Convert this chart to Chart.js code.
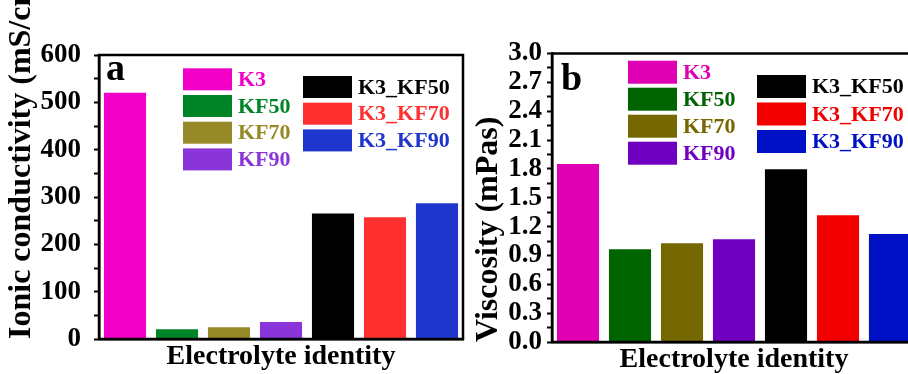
<!DOCTYPE html>
<html>
<head>
<meta charset="utf-8">
<script src="https://cdn.jsdelivr.net/npm/chart.js@4.4.1/dist/chart.umd.min.js"></script>
<style>
html, body { margin: 0; padding: 0; background: #fff; overflow: hidden; }
body { width: 908px; height: 374px; position: relative; }
.panel { position: absolute; top: 0; height: 374px; }
#panelA { left: 0; width: 470px; }
#panelB { left: 460px; width: 470px; }
</style>
</head>
<body>
<div class="panel" id="panelA"><canvas id="chartA"></canvas></div>
<div class="panel" id="panelB"><canvas id="chartB"></canvas></div>
<script>
const electrolytes = ['K3', 'KF50', 'KF70', 'KF90', 'K3_KF50', 'K3_KF70', 'K3_KF90'];

// panel a: ionic conductivity (mS/cm)
const conductivity = [520, 20.5, 25, 36, 265, 257, 287];
const conductivityTicks = [0, 100, 200, 300, 400, 500, 600];
const colorsA = ['#f200c8', '#008428', '#968a28', '#8a35da', '#000000', '#ff3030', '#2035cc'];

// panel b: viscosity (mPas)
const viscosity = [1.851, 0.964, 1.026, 1.068, 1.796, 1.317, 1.123];
const viscosityTicks = [0.0, 0.3, 0.6, 0.9, 1.2, 1.5, 1.8, 2.1, 2.4, 2.7, 3.0];
const colorsB = ['#e000b4', '#006400', '#766800', '#7000c0', '#000000', '#f20000', '#0010c4'];

const SERIF = '"Liberation Serif", "Times New Roman", serif';

const withMinor = (majors) => {
    const out = [];
    majors.forEach((v, i) => {
        out.push({ value: v });
        if (i < majors.length - 1) out.push({ value: (v + majors[i + 1]) / 2 });
    });
    return out;
};

const panelDecor = {
    id: 'panelDecor',
    afterDraw(chart, args, opts) {
        const { ctx, chartArea: a } = chart;
        ctx.save();
        ctx.lineWidth = 2.5;
        ctx.strokeStyle = '#000';
        ctx.strokeRect(a.left, a.top, a.right - a.left, a.bottom - a.top);

        ctx.fillStyle = '#000';
        ctx.font = 'bold 38px ' + SERIF;
        ctx.textBaseline = 'alphabetic';
        ctx.fillText(opts.letter, a.left + opts.letterX, a.top + opts.letterY);

        const ds = chart.data.datasets[0];
        ctx.font = 'bold 22px ' + SERIF;
        ctx.textBaseline = 'middle';
        let idx = 0;
        opts.columns.forEach((col) => {
            for (let r = 0; r < col.count; r++, idx++) {
                const x = a.left + col.x;
                const y = a.top + col.y + r * col.pitch;
                ctx.fillStyle = ds.backgroundColor[idx];
                ctx.fillRect(x, y, opts.boxW, opts.boxH);
                ctx.fillText(chart.data.labels[idx], x + opts.boxW + 6, y + opts.boxH / 2 + 1);
            }
        });
        ctx.restore();
    }
};

const makeChart = (canvas, cfg) => new Chart(canvas, {
    type: 'bar',
    data: {
        labels: electrolytes,
        datasets: [{
            data: cfg.values,
            backgroundColor: cfg.colors,
            categoryPercentage: 1.0,
            barPercentage: 0.81
        }]
    },
    options: {
        responsive: true,
        maintainAspectRatio: false,
        animation: false,
        layout: { padding: cfg.padding },
        plugins: {
            legend: { display: false },
            tooltip: { enabled: false },
            panelDecor: cfg.decor
        },
        scales: {
            x: {
                type: 'category',
                ticks: { display: false },
                grid: { display: true, drawOnChartArea: false, drawTicks: false },
                border: { display: true, color: '#000', width: 2.5 },
                title: {
                    display: true,
                    text: 'Electrolyte identity',
                    color: '#000',
                    font: { family: SERIF, size: 28, weight: 'bold' },
                    padding: cfg.xTitlePad
                },
                afterFit: (s) => { s.height = cfg.xHeight; }
            },
            y: {
                min: cfg.ticks[0],
                max: cfg.ticks[cfg.ticks.length - 1],
                afterBuildTicks: (s) => { s.ticks = withMinor(cfg.ticks); },
                afterFit: (s) => { s.width = cfg.yWidth; },
                ticks: {
                    autoSkip: false,
                    color: '#000',
                    padding: cfg.tickPad,
                    font: { family: SERIF, size: 27, weight: 'bold' },
                    callback: (v) => cfg.ticks.some((t) => Math.abs(t - v) < 1e-6) ? cfg.fmt(v) : ''
                },
                grid: { drawOnChartArea: false, drawTicks: true, tickLength: 5, tickColor: '#000', tickWidth: 2 },
                border: { display: true, color: '#000', width: 2.5 },
                title: {
                    display: true,
                    text: cfg.yTitle,
                    align: 'start',
                    color: '#000',
                    font: { family: SERIF, size: 32, weight: 'bold' },
                    padding: cfg.yTitlePad
                }
            }
        }
    },
    plugins: [panelDecor]
});

makeChart(document.getElementById('chartA'), {
    values: conductivity,
    colors: colorsA,
    ticks: conductivityTicks,
    fmt: (v) => String(Math.round(v)),
    yTitle: 'Ionic conductivity (mS/cm)',
    padding: { top: 55, right: 7, left: 0, bottom: 0 },
    xHeight: 35,
    yWidth: 99,
    tickPad: 13,
    xTitlePad: { top: 0, bottom: 0 },
    yTitlePad: { top: 3, bottom: 0 },
    decor: {
        letter: 'a', letterX: 7, letterY: 25,
        boxW: 49, boxH: 22,
        columns: [
            { x: 84, y: 13.3, pitch: 26.7, count: 4 },
            { x: 204, y: 21, pitch: 26.7, count: 3 }
        ]
    }
});

makeChart(document.getElementById('chartB'), {
    values: viscosity,
    colors: colorsB,
    ticks: viscosityTicks,
    fmt: (v) => v.toFixed(1),
    yTitle: 'Viscosity (mPas)',
    padding: { top: 53.5, right: 14, left: 0, bottom: 0 },
    xHeight: 32,
    yWidth: 92,
    tickPad: 5,
    xTitlePad: { top: 0, bottom: -3 },
    yTitlePad: { top: 10, bottom: 0 },
    decor: {
        letter: 'b', letterX: 9, letterY: 36.5,
        boxW: 49, boxH: 23,
        columns: [
            { x: 76, y: 7.2, pitch: 27, count: 4 },
            { x: 205, y: 21.5, pitch: 27.5, count: 3 }
        ]
    }
});
</script>
</body>
</html>
